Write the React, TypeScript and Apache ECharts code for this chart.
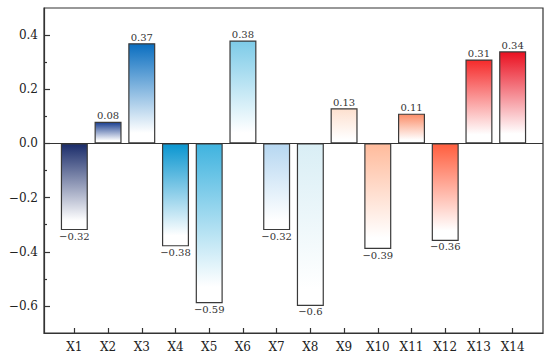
import React, { useEffect, useRef } from "react";
import * as echarts from "echarts";

const categories = ["X1", "X2", "X3", "X4", "X5", "X6", "X7", "X8", "X9", "X10", "X11", "X12", "X13", "X14"];
const values = [-0.32, 0.08, 0.37, -0.38, -0.59, 0.38, -0.32, -0.6, 0.13, -0.39, 0.11, -0.36, 0.31, 0.34];
const barColors = [
  "#1a2c6a", "#1b3f90", "#0a6ec0", "#0a96d0", "#3fb3df", "#7dcbe8", "#b6d7f1",
  "#d9eef5", "#fde0cf", "#ffbb9c", "#fb8d68", "#ff5e3e", "#f52a2a", "#ea1020",
];
const yMajor = [-0.6, -0.4, -0.2, 0, 0.2, 0.4];
const yMinor = [-0.5, -0.3, -0.1, 0.1, 0.3];

const FONT = "DejaVu Serif";

export default function App() {
  const ref = useRef<HTMLDivElement>(null);
  useEffect(() => {
    if (!ref.current) return;
    const chart = echarts.init(ref.current, undefined, { renderer: "svg" });
    const xPos = categories.map((_, i) => i + 1);
    const data = values.map((v, i) => ({
      value: [xPos[i], v],
      itemStyle: {
        color: new echarts.graphic.LinearGradient(0, 0, 0, 1, [
          { offset: 0, color: barColors[i] },
          { offset: 0.9, color: "#ffffff" },
          { offset: 1, color: "#ffffff" },
        ]),
        borderColor: "#3a3a3a",
        borderWidth: 1.2,
      },
      label: { position: v >= 0 ? "top" : "bottom" },
    }));
    chart.setOption({
      animation: false,
      backgroundColor: "#ffffff",
      textStyle: { fontFamily: FONT },
      grid: {
        left: 44, right: 7, top: 8, bottom: 24,
        show: true, borderColor: "#333", borderWidth: 1.2, backgroundColor: "transparent",
      },
      xAxis: {
        type: "value",
        min: 0.1,
        max: 14.9,
        axisLine: { show: true, onZero: false, lineStyle: { color: "#333", width: 1.2 } },
        axisTick: { show: true, inside: true, length: 5, customValues: xPos, lineStyle: { color: "#333", width: 1.2 } },
        axisLabel: {
          customValues: xPos,
          formatter: (v: number) => categories[Math.round(v) - 1] ?? "",
          color: "#222", fontFamily: FONT, fontSize: 12, margin: 8,
        },
        splitLine: { show: false },
      },
      yAxis: [
        {
          type: "value",
          min: -0.7,
          max: 0.5,
          axisLine: { show: true, lineStyle: { color: "#333", width: 1.2 } },
          axisTick: { show: true, inside: true, length: 6, customValues: yMajor, lineStyle: { color: "#333", width: 1.2 } },
          axisLabel: {
            customValues: yMajor,
            formatter: (v: number) => v.toFixed(1).replace("-", "\u2212"),
            color: "#222", fontFamily: FONT, fontSize: 12, margin: 6,
          },
          splitLine: { show: false },
        },
        {
          type: "value",
          min: -0.7,
          max: 0.5,
          position: "left",
          axisLine: { show: false },
          axisTick: { show: true, inside: true, length: 3, customValues: yMinor, lineStyle: { color: "#333", width: 1.2 } },
          axisLabel: { show: false },
          splitLine: { show: false },
        },
      ],
      series: [
        {
          type: "bar",
          data,
          barWidth: 27,
          label: {
            show: true,
            color: "#333",
            fontFamily: FONT,
            fontSize: 10,
            distance: 1,
            formatter: (p: any) => String(p.value[1]).replace("-", "\u2212"),
          },
          markLine: {
            silent: true,
            symbol: "none",
            label: { show: false },
            lineStyle: { color: "#333", width: 1.2, type: "solid" },
            data: [{ yAxis: 0 }],
          },
        },
      ],
    });
    return () => chart.dispose();
  }, []);
  return <div ref={ref} style={{ width: 550, height: 357, position: "absolute", left: 0, top: 0 }} />;
}
